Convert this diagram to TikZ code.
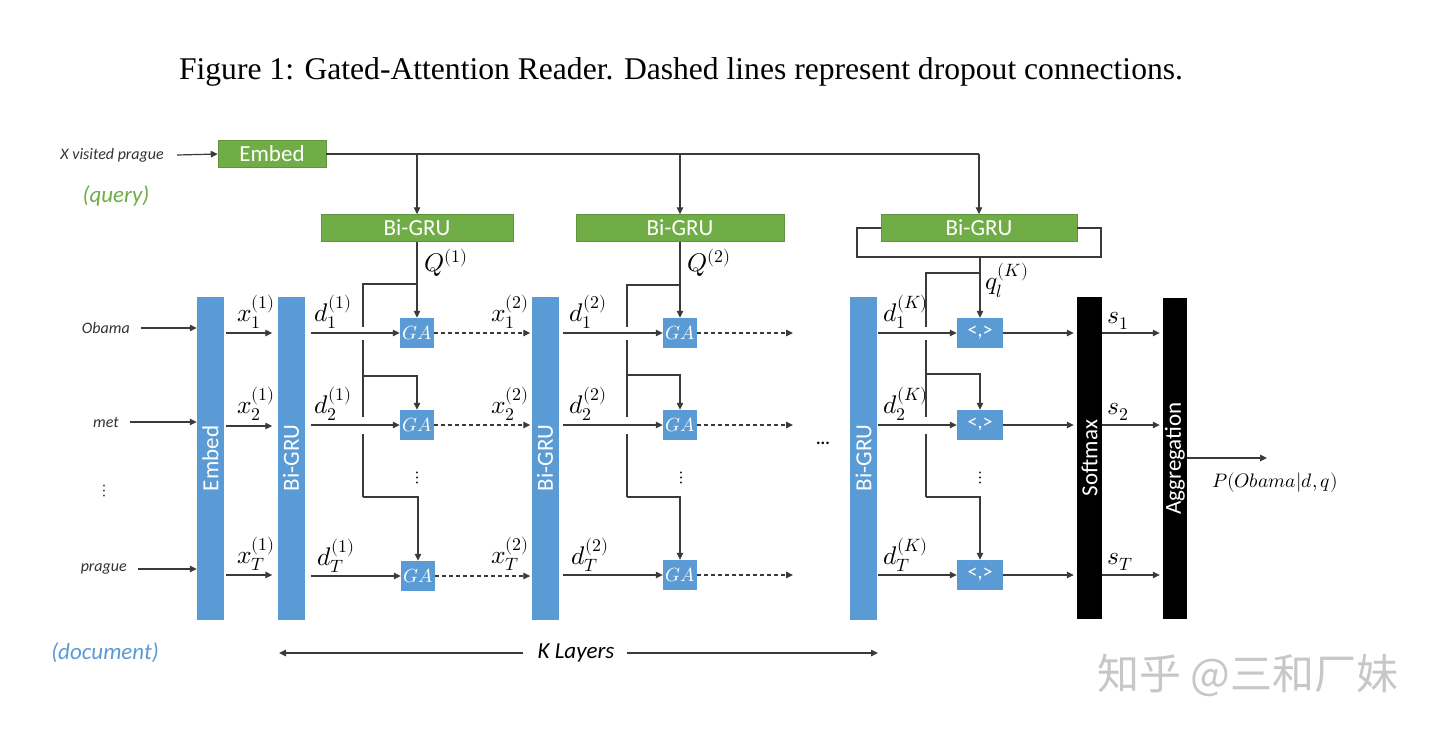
\documentclass[tikz,border=0pt]{standalone}
\usepackage{fontspec}
\usepackage{unicode-math}
\setmainfont{Carlito}
\newfontfamily\capfont{Liberation Serif}
\newfontfamily\cjkfont{Noto Sans CJK SC}
\usetikzlibrary{arrows.meta}
\definecolor{qgreen}{HTML}{70AD47}
\definecolor{dblue}{HTML}{5B9BD5}
\definecolor{lngray}{HTML}{3A3A3A}
\definecolor{wordgray}{HTML}{333333}
\tikzset{
  ln/.style={draw=lngray, line width=1.2pt},
  arr/.style={ln, -{Triangle[length=7pt,width=6.5pt]}},
  dasharr/.style={arr, dash pattern=on 4pt off 3pt},
  qbox/.style={fill=qgreen, draw=qgreen!85!black, line width=0.5pt, inner sep=0pt,
    minimum height=27pt, text=white, font=\fontsize{23}{27}\selectfont},
  dbar/.style={fill=dblue, inner sep=0pt, minimum width=27pt, minimum height=323pt},
  kbar/.style={fill=black, inner sep=0pt, minimum width=25pt, minimum height=322pt},
  vlab/.style={rotate=90, text=white, inner sep=0pt, font=\fontsize{23}{27}\selectfont},
  gabox/.style={fill=dblue, inner sep=0pt, minimum width=34pt, minimum height=30pt,
    text=white, font=\fontsize{19}{22}\selectfont},
  ipbox/.style={fill=dblue, inner sep=0pt, minimum width=46pt, minimum height=30pt,
    text=white, font=\fontsize{20}{22}\selectfont},
  word/.style={text=wordgray, inner sep=0pt, font=\itshape\fontsize{16}{18}\selectfont},
  mlab/.style={inner sep=0pt, font=\fontsize{25.5}{29}\selectfont},
  dotlab/.style={inner sep=0pt, font=\fontsize{18}{20}\selectfont},
}
\begin{document}
\begin{tikzpicture}[x=1pt, y=-1pt]
\useasboundingbox (0,0) rectangle (1440,732);
\fill[white] (0,0) rectangle (1440,732);

% caption
\node[inner sep=0pt, font=\capfont\fontsize{31.6}{36}\selectfont] (cap) at (681,72)
  {Figure 1: Gated-Attention Reader. Dashed lines represent dropout connections.};

% ---------------- query side ----------------
\node[word, anchor=east] (wq) at (164,155) {X visited prague};
\node[qbox, minimum width=108pt] (qemb) at (272,154) {Embed};
\draw[arr] ([xshift=13pt]wq.east) -- (qemb.west);
\node[inner sep=0pt, text=qgreen, font=\itshape\fontsize{23}{27}\selectfont] (qlab) at (116,196) {(query)};

\node[qbox, minimum width=192pt] (gq1) at (417,228) {Bi-GRU};
\node[qbox, minimum width=208pt] (gq2) at (680,228) {Bi-GRU};
\node[qbox, minimum width=196pt] (gqK) at (979,228) {Bi-GRU};
\draw[ln] (qemb.east) -- (qemb.east -| gqK);
\foreach \g in {gq1,gq2,gqK} \draw[arr] (qemb.east -| \g) -- (\g.north);

% ---------------- document side ----------------
\node[word, anchor=east] (w1) at (130,328) {Obama};
\node[word, anchor=east] (w2) at (119,422) {met};
\node[dotlab, text=wordgray] (w3) at (104,491) {$\vdots$};
\node[word, anchor=east] (wT) at (127,569) {prague};
\node[inner sep=0pt, text=dblue, font=\itshape\fontsize{23}{27}\selectfont] (dlab) at (105,653) {(document)};

% bars
\node[dbar] (demb) at (210.5,458.5) {};
\node[vlab] (dembt) at (demb) {Embed};
\node[dbar] (dg1) at (291,458) {};
\node[vlab] (dg1t) at (dg1) {Bi-GRU};
\node[dbar] (dg2) at (545,458) {};
\node[vlab] (dg2t) at (dg2) {Bi-GRU};
\node[dbar] (dgK) at (863.5,458) {};
\node[vlab] (dgKt) at (dgK) {Bi-GRU};
\node[kbar] (soft) at (1089.5,458) {};
\node[vlab] (softt) at (soft) {Softmax};
\node[kbar, minimum width=24pt, minimum height=321pt] (agg) at (1175,458.5) {};
\node[vlab] (aggt) at (agg) {Aggregation};

% row coordinates
\coordinate (r1) at (0,333);
\coordinate (r2) at (0,426);
\coordinate (rT) at (0,575);

% input arrows
\foreach \w in {w1,w2,wT} \draw[arr] ([xshift=11pt]\w.east) -- (\w -| demb.west);

% x arrows into first Bi-GRU
\foreach \r in {r1,r2,rT} \draw[arr] ([xshift=2pt]demb.east |- \r) -- ([xshift=-5pt]dg1.west |- \r);
\node[mlab] (lx11) at (256,312) {$x_1^{(1)}$};
\node[mlab] (lx12) at (256,404) {$x_2^{(1)}$};
\node[mlab] (lx1T) at (256,554) {$x_T^{(1)}$};

% ---------------- layer 1 ----------------
\node[gabox] (ga11) at (417,333) {$GA$};
\node[gabox] (ga12) at (417,425) {$GA$};
\node[gabox] (ga1T) at (418,576) {$GA$};
\node[dotlab] (dots1) at (417,478) {$\vdots$};
\foreach \n in {ga11,ga12,ga1T} {
  \draw[arr] ([xshift=6pt]dg1.east |- \n) -- (\n.west);
  \draw[dasharr] (\n.east) -- ([xshift=-1pt]dg2.west |- \n);
}
\node[mlab] (ld11) at (333,312) {$d_1^{(1)}$};
\node[mlab] (ld12) at (333,404) {$d_2^{(1)}$};
\node[mlab] (ld1T) at (336,556) {$d_T^{(1)}$};
\draw[arr] (gq1.south) -- (ga11.north);
\node[mlab] (lQ1) at (446,263) {$Q^{(1)}$};
\draw[ln] (ga11.north |- 0,284) -- (363,284) -- (363,327);
\draw[ln] (363,340) -- (363,417);
\draw[ln] (363,434) -- (363,497);
\draw[arr] (363,376) -| (ga12.north);
\draw[arr] (363,497) -| (ga1T.north);

% ---------------- layer 2 ----------------
\node[mlab] (lx21) at (510,312) {$x_1^{(2)}$};
\node[mlab] (lx22) at (510,404) {$x_2^{(2)}$};
\node[mlab] (lx2T) at (510,554) {$x_T^{(2)}$};
\node[gabox] (ga21) at (680,333) {$GA$};
\node[gabox] (ga22) at (680,425) {$GA$};
\node[gabox] (ga2T) at (680,575) {$GA$};
\node[dotlab] (dots2) at (681,478) {$\vdots$};
\coordinate (o21) at (793,333);
\coordinate (o22) at (793,425);
\coordinate (o2T) at (793,575);
\foreach \n/\o in {ga21/o21,ga22/o22,ga2T/o2T} {
  \draw[arr] ([xshift=4pt]dg2.east |- \n) -- (\n.west);
  \draw[dasharr] (\n.east) -- (\o);
}
\node[mlab] (ld21) at (588,312) {$d_1^{(2)}$};
\node[mlab] (ld22) at (588,404) {$d_2^{(2)}$};
\node[mlab] (ld2T) at (590,555) {$d_T^{(2)}$};
\draw[arr] (gq2.south) -- (ga21.north);
\node[mlab] (lQ2) at (709,263) {$Q^{(2)}$};
\draw[ln] (ga21.north |- 0,285) -- (627,285) -- (627,327);
\draw[ln] (627,340) -- (627,417);
\draw[ln] (627,434) -- (627,497);
\draw[arr] (627,375) -| (ga22.north);
\draw[arr] (627,497) -| (ga2T.north);

\node[inner sep=0pt, font=\bfseries\fontsize{17}{18}\selectfont] (hdots) at (823,443) {...};

% ---------------- layer K ----------------
\node[ipbox] (ipK1) at (980,333) {<,>};
\node[ipbox] (ipK2) at (980,425) {<,>};
\node[ipbox] (ipKT) at (980,575) {<,>};
\node[dotlab] (dotsK) at (980,478) {$\vdots$};
\foreach \n in {ipK1,ipK2,ipKT} {
  \draw[arr] ([xshift=1pt]dgK.east |- \n) -- (\n.west);
  \draw[arr] (\n.east) -- ([xshift=-3pt]soft.west |- \n);
  \draw[arr] (soft.east |- \n) -- ([xshift=-3pt]agg.west |- \n);
}
\node[mlab] (ldK1) at (906,312) {$d_1^{(K)}$};
\node[mlab] (ldK2) at (906,404) {$d_2^{(K)}$};
\node[mlab] (ldKT) at (906,555) {$d_T^{(K)}$};
\draw[ln] (gqK.west) -- (857,228) -- (857,257) -- (1101,257) -- (1101,228) -- (gqK.east);
\draw[arr] (ipK1.north |- 0,257) -- (ipK1.north);
\node[mlab] (lqK) at (1007,280) {$q_l^{(K)}$};
\draw[ln] (ipK1.north |- 0,273) -- (926,273) -- (926,327);
\draw[ln] (926,340) -- (926,417);
\draw[ln] (926,434) -- (926,497);
\draw[arr] (926,374) -| (ipK2.north);
\draw[arr] (926,497) -| (ipKT.north);

\node[mlab] (ls1) at (1118,321) {$s_1$};
\node[mlab] (ls2) at (1118,412) {$s_2$};
\node[mlab] (lsT) at (1120,562) {$s_T$};

% output
\coordinate (pout) at (1267,458);
\draw[arr] (agg.east |- pout) -- (pout);
\node[inner sep=0pt, font=\fontsize{19.5}{22}\selectfont] (plab) at (1275,483) {$P(Obama|d,q)$};

% K layers
\node[inner sep=0pt, font=\itshape\fontsize{23}{27}\selectfont] (kl) at (576,653) {K Layers};
\coordinate (klL) at (279,653);
\coordinate (klR) at (878,653);
\draw[arr] ([xshift=-14pt]kl.west) -- (klL);
\draw[arr] ([xshift=12pt]kl.east) -- (klR);

% watermark
\node[inner sep=0pt, text=black!22, font=\cjkfont\fontsize{42}{46}\selectfont] (wm) at (1248,675) {知乎 @三和厂妹};
\end{tikzpicture}
\end{document}
